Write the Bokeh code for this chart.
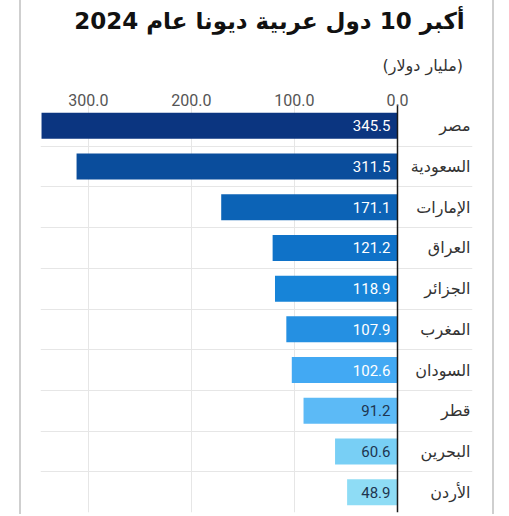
from bokeh.plotting import figure
from bokeh.layouts import column
from bokeh.models import (Range1d, FixedTicker, NumeralTickFormatter, Span, Label,
                          ColumnDataSource)
from bokeh.core.properties import value
from bokeh.embed import file_html
from bokeh.resources import INLINE

# ---- data ----
countries = ["مصر", "السعودية", "الإمارات", "العراق", "الجزائر",
             "المغرب", "السودان", "قطر", "البحرين", "الأردن"]
debt = [345.5, 311.5, 171.1, 121.2, 118.9, 107.9, 102.6, 91.2, 60.6, 48.9]
x_ticks = [0, 100, 200, 300]
title_text = "أكبر 10 دول عربية ديونا عام 2024"
subtitle_text = "(مليار دولار)"

# ---- styles ----
bar_colors = ["#0b3580", "#0a4d9c", "#0c63b6", "#0f72c8", "#1784d8",
              "#2590e2", "#42a9f3", "#5cbaf6", "#78cff5", "#8edcf5"]
label_colors = ["#ffffff"] * 7 + ["#1e3550"] * 3

rank = list(range(1, len(countries) + 1))
src = ColumnDataSource(dict(
    rank=rank, debt=debt, country=countries, color=bar_colors,
    lab=[f"{v:.1f}" for v in debt], lab_color=label_colors,
    zero=[0] * len(rank)))

W = 494
TOP_H = 88

# ---- header figure (title + subtitle), frame = whole canvas, 1 unit = 1 px ----
head = figure(width=W, height=TOP_H, x_range=Range1d(0, W), y_range=Range1d(TOP_H, 0),
              x_axis_type=None, y_axis_type=None,
              output_backend="svg", toolbar_location=None, min_border=0,
              min_border_left=0, min_border_right=0, min_border_top=0, min_border_bottom=0)
head.grid.visible = False
head.outline_line_color = None
head.border_fill_color = None
head.background_fill_color = None
head.add_layout(Label(x=485, y=20, text=title_text, text_align="right",
                      text_baseline="middle", text_font_size="23px",
                      text_font="DejaVu Sans", text_font_style="bold",
                      text_color="#111111"))
head.add_layout(Label(x=391, y=65, text=subtitle_text, text_align="left",
                      text_baseline="middle", text_font_size="16px",
                      text_font="DejaVu Sans", text_color="#333333"))

# ---- chart ----
p = figure(width=W, height=426,
           x_range=Range1d(346.5, -72.8), y_range=Range1d(10.5, 0.5),
           x_axis_location="above", output_backend="svg", toolbar_location=None,
           min_border_left=40, min_border_right=22, min_border_bottom=2, min_border_top=17)
p.outline_line_color = None
p.border_fill_color = None
p.background_fill_color = None

p.hbar(y="rank", left="zero", right="debt", height=0.64, fill_color="color",
       line_color=None, source=src)

p.text(x="zero", y="rank", text="lab", source=src, x_offset=-7,
       text_align="right", text_baseline="middle", text_color="lab_color",
       text_font=value("Roboto"), text_font_size="15px")

p.text(x="zero", y="rank", text="country", source=src, x_offset=73,
       text_align="right", text_baseline="middle", text_color="#333333",
       text_font=value("DejaVu Sans"), text_font_size="16px")

p.add_layout(Span(location=0, dimension="height", line_color="#1a1a1a", line_width=1.5))

ax = p.xaxis[0]
ax.ticker = FixedTicker(ticks=x_ticks)
ax.formatter = NumeralTickFormatter(format="0.0")
ax.axis_line_color = None
ax.major_tick_line_color = None
ax.minor_tick_line_color = None
ax.major_tick_out = 0
ax.major_tick_in = 0
ax.major_label_standoff = 0
ax.major_label_text_font_size = "16px"
ax.major_label_text_color = "#555555"
ax.major_label_text_font = "Roboto"
p.yaxis.visible = False

p.xgrid.ticker = FixedTicker(ticks=x_ticks[1:])
p.xgrid.grid_line_color = "#e6e6e6"
p.ygrid.ticker = FixedTicker(ticks=[r + 0.5 for r in rank[:-1]])
p.ygrid.grid_line_color = "#e6e6e6"

# light card edges behind the (transparent) figures
card = ("linear-gradient(90deg, transparent 19px, #cfcfcf 19px, #cfcfcf 21px, "
        "transparent 21px, transparent 492px, #cfcfcf 492px, #cfcfcf 494px, transparent 494px)")
page = column(head, p, spacing=0, styles={"background-image": card})

open("out.html", "w").write(file_html(page, INLINE))
